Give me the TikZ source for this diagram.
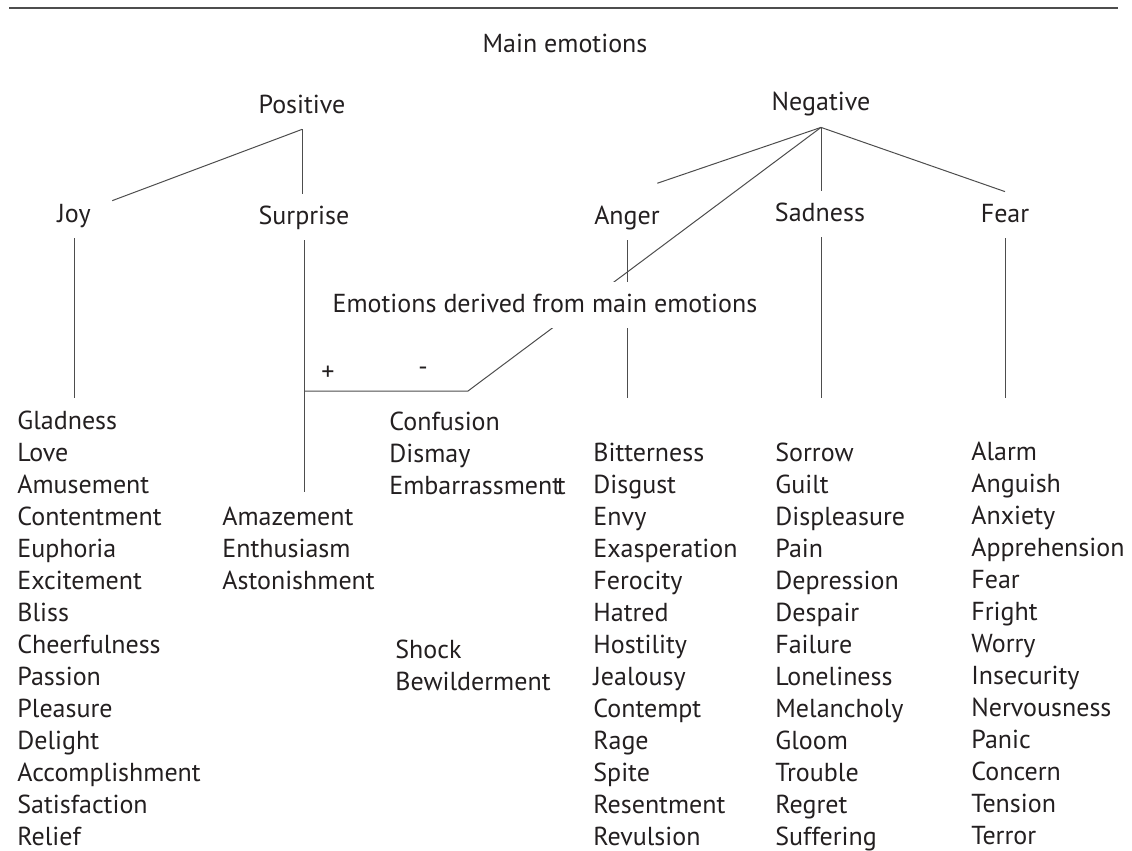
\documentclass[tikz,border=0pt]{standalone}
\usepackage{fontspec}
\setmainfont{PT Sans}
\usetikzlibrary{calc,positioning}
\definecolor{inkblack}{HTML}{231F20}
\definecolor{linegray}{HTML}{4D4D4D}
\tikzset{%
	head/.style   = {anchor=base, inner sep=5pt, text height=10pt, text depth=3pt}, % Heading
	items/.style  = {anchor=base west, inner sep=0pt, align=left}, % Word list, placed by its last line
	sign/.style   = {inner sep=1pt}, % + and -
	branch/.style = {draw=linegray, line width=0.5pt},
	rule/.style   = {draw=linegray, line width=1pt},
}

\begin{document}
\begin{tikzpicture}[x=0.5pt, y=-0.5pt, font=\fontsize{13}{16}\selectfont, text=inkblack]
	\useasboundingbox (0,0) rectangle (1132,851);
	\coordinate (ruleleft) at (9,8);
	\coordinate (ruleright) at (1118,8);
	\draw[rule] (ruleleft) -- (ruleright);
	\node[head] (main) at (565,53) {Main emotions};
	\node[head] (positive) at (302,113) {Positive};
	\node[head] (negative) at (821,111) {Negative};
	\node[head] (joy) at (74,222) {Joy};
	\node[head] (surprise) at (304,224) {Surprise};
	\node[head] (anger) at (627,224) {Anger};
	\node[head] (sadness) at (820,221) {Sadness};
	\node[head] (fear) at (1005,222) {Fear};
	\coordinate (corner) at (468,391);
	\coordinate (lists) at (0,398);
	\node[items] (joylist) at (17,845) {Gladness\\Love\\Amusement\\Contentment\\Euphoria\\Excitement\\Bliss\\Cheerfulness\\Passion\\Pleasure\\Delight\\Accomplishment\\Satisfaction\\Relief};
	\node[items] (surplist) at (222,589) {Amazement\\Enthusiasm\\Astonishment};
	\node[items] (conflist) at (389,494) {Confusion\\Dismay\\Embarrassment\kern-.17em t};
	\node[items] (shocklist) at (395,690) {Shock\\Bewilderment};
	\node[items] (angerlist) at (593,845) {Bitterness\\Disgust\\Envy\\Exasperation\\Ferocity\\Hatred\\Hostility\\Jealousy\\Contempt\\Rage\\Spite\\Resentment\\Revulsion};
	\node[items] (sadlist) at (775,845) {Sorrow\\Guilt\\Displeasure\\Pain\\Depression\\Despair\\Failure\\Loneliness\\Melancholy\\Gloom\\Trouble\\Regret\\Suffering};
	\node[items] (fearlist) at (971,844) {Alarm\\Anguish\\Anxiety\\Apprehension\\Fear\\Fright\\Worry\\Insecurity\\Nervousness\\Panic\\Concern\\Tension\\Terror};
	\draw[branch, shorten >=6pt] (positive.south) -- (joy);
	\draw[branch] (positive.south) -- (positive.south |- surprise.north);
	\draw[branch, shorten >=16pt] (negative.south) -- (anger.north);
	\draw[branch] (negative.south) -- (negative.south |- sadness.north);
	\draw[branch] (negative.south) -- (fear.north);
	\draw[branch] (negative.south) -- (corner) -- (corner -| surprise.south);
	\draw[branch] (joy.south) -- (joy.south |- lists);
	\draw[branch, shorten >=7pt] (surprise.south) -- (surprise.south |- surplist.north);
	\draw[branch] (anger.south) -- (anger.south |- lists);
	\draw[branch] (negative.south |- sadness.south) -- (negative.south |- lists);
	\draw[branch] (fear.south) -- (fear.south |- lists);
	% label on white, cuts the lines below it
	\node[head, fill=white] (derived) at (545,312) {Emotions derived from main emotions};
	\node[sign] (plus) at (328,373) {+};
	\node[sign] (minus) at (423,371) {-};
\end{tikzpicture}
\end{document}
